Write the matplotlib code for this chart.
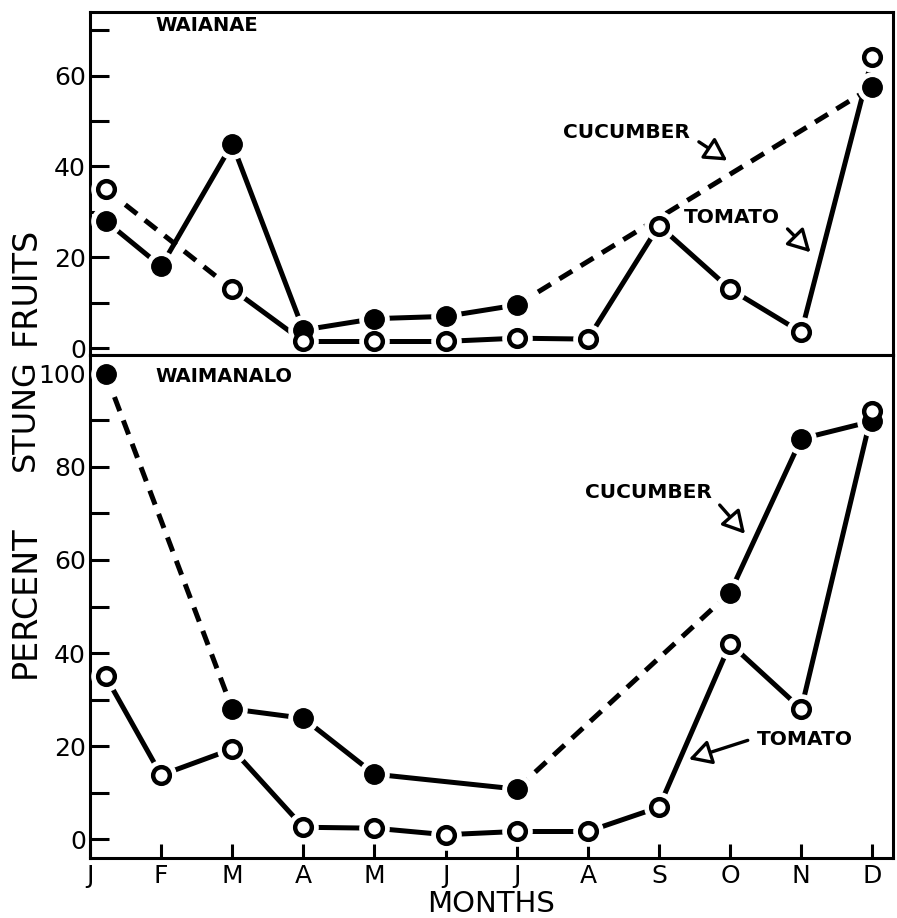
import numpy as np
import matplotlib
matplotlib.use("Agg")
import matplotlib.pyplot as plt

nan = np.nan
months = ["J", "F", "M", "A", "M", "J", "J", "A", "S", "O", "N", "D"]

# Waianae (top panel)
wai_cucumber = [28, 18, 45, 4, 6.5, 7, 9.5, nan, nan, nan, nan, 57.5]
wai_tomato = [35, nan, 13, 1.5, 1.5, 1.5, 2.2, 2, 27, 13, 3.5, 64]
wai_cucumber_dashed = [(6, 11)]
wai_tomato_dashed = [(0, 2)]

# Waimanalo (bottom panel)
wm_cucumber = [100, nan, 28, 26, 14, nan, 10.8, nan, nan, 53, 86, 89.8]
wm_tomato = [35, 13.8, 19.4, 2.6, 2.4, 1, 1.7, 1.7, 6.9, 42, 28, 92]
wm_cucumber_dashed = [(0, 2), (6, 9)]
wm_tomato_dashed = []

LW = 3.6
MS = 14

x = np.arange(12, dtype=float)
x[0] = 0.22  # first points sit just off the axis


def draw_series(ax, vals, dashed, filled):
    vals = np.array(vals, dtype=float)
    idx = np.where(~np.isnan(vals))[0]
    for a, b in zip(idx[:-1], idx[1:]):
        ls = (0, (3, 2)) if (a, b) in dashed else "-"
        ax.plot([x[a], x[b]], [vals[a], vals[b]], color="black", lw=LW,
                ls=ls, zorder=2, solid_capstyle="butt")
    ax.plot(x[idx], vals[idx], "o", ms=MS + 7, color="white", mec="white",
            zorder=3)
    if filled:
        ax.plot(x[idx], vals[idx], "o", ms=MS, color="black", zorder=4)
    else:
        ax.plot(x[idx], vals[idx], "o", ms=MS - 2, mfc="white", mec="black",
                mew=3.2, zorder=5)


fig = plt.figure(figsize=(8.97, 9.18), dpi=100)
left, right = 90 / 897, 893 / 897
ax1 = fig.add_axes([left, 1 - 355 / 918, right - left, (355 - 12) / 918])
ax2 = fig.add_axes([left, 1 - 858 / 918, right - left, (858 - 355) / 918],
                   sharex=ax1)

draw_series(ax1, wai_cucumber, wai_cucumber_dashed, True)
draw_series(ax1, wai_tomato, wai_tomato_dashed, False)
draw_series(ax2, wm_cucumber, wm_cucumber_dashed, True)
draw_series(ax2, wm_tomato, wm_tomato_dashed, False)

ax1.set_ylim(-1.5, 74)
ax2.set_ylim(-4, 104)
ax2.set_xlim(0, 11.29)

for ax in (ax1, ax2):
    for s in ax.spines.values():
        s.set_linewidth(2.2)
    ax.tick_params(axis="y", which="both", direction="in", length=14,
                   width=2.2, labelsize=18, pad=3)

ax1.set_yticks([0, 20, 40, 60])
ax1.set_yticks([10, 30, 50, 70], minor=True)
ax2.set_yticks([0, 20, 40, 60, 80, 100])
ax2.set_yticks([10, 30, 50, 70, 90], minor=True)

ax1.tick_params(axis="x", which="both", bottom=False, labelbottom=False)
ax2.set_xticks(np.arange(12))
ax2.set_xticklabels(months)
ax2.tick_params(axis="x", direction="in", length=10, width=2.2,
                labelsize=18, pad=4)
ax2.set_xlabel("MONTHS", fontsize=21, labelpad=2)

ax1.text(0.081, 0.962, "WAIANAE", transform=ax1.transAxes, fontsize=14,
         fontweight="bold", va="center")
ax2.text(0.081, 0.958, "WAIMANALO", transform=ax2.transAxes, fontsize=14,
         fontweight="bold", va="center")

arrow = dict(arrowstyle="-|>,head_length=0.45,head_width=0.25", fc="white",
             ec="black", lw=2.4, mutation_scale=30, shrinkA=5, shrinkB=0)
ax1.annotate("CUCUMBER", xy=(8.96, 41.3), xytext=(8.44, 47.5),
             fontsize=14.5, fontweight="bold", ha="right", va="center",
             arrowprops=dict(arrow, relpos=(1, 0.3)))
ax1.annotate("TOMATO", xy=(10.13, 21.1), xytext=(8.35, 28.8),
             fontsize=14.5, fontweight="bold", ha="left", va="center",
             arrowprops=dict(arrow, relpos=(1, 0.3)))
ax2.annotate("CUCUMBER", xy=(9.21, 65.6), xytext=(8.75, 74.4),
             fontsize=14.5, fontweight="bold", ha="right", va="center",
             arrowprops=dict(arrow, relpos=(1, 0.3)))
ax2.annotate("TOMATO", xy=(8.42, 17.2), xytext=(9.38, 21.5),
             fontsize=14.5, fontweight="bold", ha="left", va="center",
             arrowprops=dict(arrow, relpos=(0, 0.6)))

fig.text(25 / 897, 1 - 286 / 918, "FRUITS", rotation=90, fontsize=24,
         ha="center", va="center")
fig.text(25 / 897, 1 - 415 / 918, "STUNG", rotation=90, fontsize=23,
         ha="center", va="center")
fig.text(25 / 897, 1 - 602 / 918, "PERCENT", rotation=90, fontsize=24,
         ha="center", va="center")

fig.savefig("out.png", dpi=100)
